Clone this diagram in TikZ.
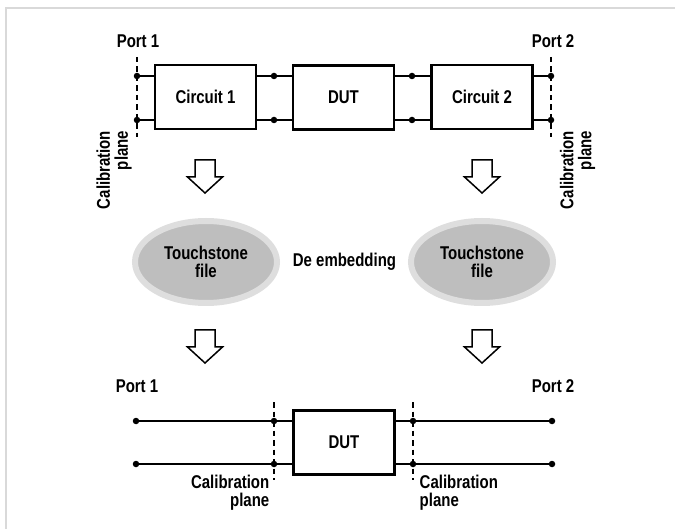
\documentclass[tikz,border=0pt]{standalone}
\usepackage{fontspec}
\setmainfont[FakeStretch=0.81]{Liberation Sans}
\usetikzlibrary{shapes.geometric}
\definecolor{framec}{HTML}{D9D9D9}
\definecolor{ellin}{HTML}{BEBEBE}
\definecolor{ellout}{HTML}{DEDEDE}
\tikzset{
  lbl/.style={font=\fontsize{18.5}{18}\selectfont\bfseries, inner sep=0pt},
  blk/.style={draw, line width=2.6pt, minimum width=101pt, minimum height=64pt, lbl},
  dot/.style={circle, fill, inner sep=0pt, minimum size=6.5pt},
  wire/.style={line width=1.3pt},
  calplane/.style={line width=1.1pt, dash pattern=on 5.5pt off 4pt},
  tsfile/.style={ellipse, draw=ellout, fill=ellin, line width=6pt, minimum width=142pt, minimum height=82pt, align=center, lbl},
  downarrow/.pic={\draw[line width=1.5pt, line join=miter] (-10,0) -- (10,0) -- (10,17) -- (17.5,17) -- (0,33) -- (-17.5,17) -- (-10,17) -- cycle;}
}
\begin{document}
\begin{tikzpicture}[x=1pt,y=-1pt]
\useasboundingbox (0,0) rectangle (675,529);
\draw[framec, line width=2pt] (6,529) -- (6,8) -- (675,8);

% ---------- top row ----------
\node[lbl] (port1) at (138,41) {Port 1};
\node[lbl] (port2) at (553,41) {Port 2};

\node[blk] (c1) at (205.5,97) {Circuit 1};
\node[blk] (dut) at (343.5,97.5) {DUT};
\node[blk] (c2) at (482,97) {Circuit 2};

\node[dot] (p1a) at (137,76) {};
\node[dot] (p1b) at (137,120) {};
\node[dot] (m1a) at (274,76) {};
\node[dot] (m1b) at (274,120) {};
\node[dot] (m2a) at (412,76) {};
\node[dot] (m2b) at (412,120) {};
\node[dot] (p2a) at (551,76) {};
\node[dot] (p2b) at (551,120) {};

\draw[wire] (p1a) -- (p1a -| c1.west);
\draw[wire] (p1b) -- (p1b -| c1.west);
\draw[wire] (m1a -| c1.east) -- (m1a -| dut.west);
\draw[wire] (m1b -| c1.east) -- (m1b -| dut.west);
\draw[wire] (m2a -| dut.east) -- (m2a -| c2.west);
\draw[wire] (m2b -| dut.east) -- (m2b -| c2.west);
\draw[wire] (p2a -| c2.east) -- (p2a);
\draw[wire] (p2b -| c2.east) -- (p2b);

\coordinate (cl1t) at (137,57);
\coordinate (cl1b) at (137,137);
\coordinate (cr1t) at (551,57);
\coordinate (cr1b) at (551,137);
\draw[calplane] (cl1t) -- (cl1b);
\draw[calplane] (cr1t) -- (cr1b);

\node[lbl, rotate=90, align=right] (calL) at (114,170) {Calibration\\plane};
\node[lbl, rotate=90, align=right] (calR) at (577.5,170) {Calibration\\plane};

\pic at (205,160) {downarrow};
\pic at (482,160) {downarrow};

% ---------- middle ----------
\node[tsfile] (ts1) at (206,262) {Touchstone\\file};
\node[tsfile] (ts2) at (482,262) {Touchstone\\file};
\node[lbl] (deemb) at (344.5,262) {De embedding};

\pic at (205,330) {downarrow};
\pic at (482,330) {downarrow};

% ---------- bottom row ----------
\node[lbl] (bport1) at (137,386) {Port 1};
\node[lbl] (bport2) at (553,386) {Port 2};

\node[blk] (dut2) at (344,442.5) {DUT};

\node[dot] (b1a) at (136,421) {};
\node[dot] (b1b) at (136,464) {};
\node[dot] (b2a) at (274,421) {};
\node[dot] (b2b) at (274,464) {};
\node[dot] (b3a) at (413,421) {};
\node[dot] (b3b) at (413,464) {};
\node[dot] (b4a) at (552,421) {};
\node[dot] (b4b) at (552,464) {};

\draw[wire] (b1a) -- (b1a -| dut2.west);
\draw[wire] (b1b) -- (b1b -| dut2.west);
\draw[wire] (b3a -| dut2.east) -- (b4a);
\draw[wire] (b3b -| dut2.east) -- (b4b);

\coordinate (bclt) at (274,402);
\coordinate (bclb) at (274,480);
\coordinate (bcrt) at (413,402);
\coordinate (bcrb) at (413,480);
\draw[calplane] (bclt) -- (bclb);
\draw[calplane] (bcrt) -- (bcrb);

\node[lbl, align=right, anchor=north east] (bcalL) at (269.5,475) {Calibration\\plane};
\node[lbl, align=left, anchor=north west] (bcalR) at (419.5,475) {Calibration\\plane};
\end{tikzpicture}
\end{document}
